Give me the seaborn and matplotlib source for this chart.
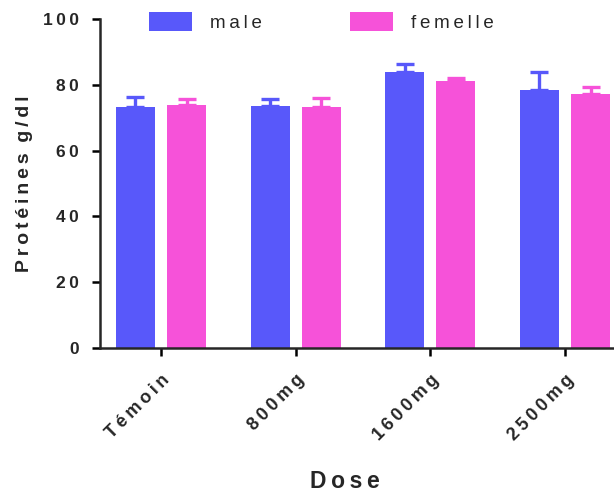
import matplotlib
matplotlib.use("Agg")
import matplotlib.pyplot as plt
import matplotlib.transforms as mtransforms
import seaborn as sns
import pandas as pd
import numpy as np
from matplotlib.patches import Patch

doses = ["Témoin", "800mg", "1600mg", "2500mg"]
groups = ["male", "femelle"]
male = [73.3, 73.6, 84.0, 78.3]
male_err = [3.1, 2.0, 2.3, 5.7]
femelle = [73.8, 73.2, 81.2, 77.2]
femelle_err = [1.8, 2.7, 1.0, 2.0]
colors = {"male": "#5858FA", "femelle": "#F652D9"}

SP = "\u2009"
def spaced(s, sp=SP):
    return sp.join(list(s))

df = pd.DataFrame({
    "Dose": doses * 2,
    "Sexe": ["male"] * 4 + ["femelle"] * 4,
    "val": male + femelle,
})
errs = {"male": male_err, "femelle": femelle_err}

sns.set_style("ticks")
plt.rcParams["font.family"] = ["Liberation Sans", "DejaVu Sans"]

fig = plt.figure(figsize=(6.14, 4.93), dpi=100)
ax = fig.add_axes([100/614, 1-348/493, 514/614, 329/493])

sns.barplot(data=df, x="Dose", y="val", hue="Sexe", hue_order=groups,
            order=doses, palette=colors, width=0.76, gap=0.24,
            errorbar=None, legend=False, ax=ax, saturation=1,
            edgecolor="none", linewidth=0)

for cont, g in zip(ax.containers, groups):
    vals = male if g == "male" else femelle
    xs = [b.get_x() + b.get_width()/2 for b in cont]
    e = errs[g]
    ax.errorbar(xs, vals, yerr=[np.zeros(len(e)), e], fmt="none",
                ecolor=colors[g], elinewidth=2.4, capsize=6.3, capthick=2.4,
                zorder=1)
    for b in cont:
        b.set_zorder(2)

ax.set_xlim(-0.453, 3.364)
ax.set_ylim(0, 100)
ax.set_yticks([0, 20, 40, 60, 80, 100])
ax.set_yticklabels([spaced(str(v)) for v in [0, 20, 40, 60, 80, 100]],
                   fontsize=12.5, fontweight="bold")
ax.set_xticks(range(4))
ax.set_xticklabels([spaced(d) for d in doses], rotation=45, ha="right",
                   rotation_mode="anchor", fontsize=13, fontweight="bold")
offset = mtransforms.ScaledTranslation(-5/100, 0, fig.dpi_scale_trans)
for lbl in ax.get_xticklabels():
    lbl.set_transform(lbl.get_transform() + offset)
for s in ["top", "right"]:
    ax.spines[s].set_visible(False)
for s in ["left", "bottom"]:
    ax.spines[s].set_linewidth(1.8)
ax.tick_params(axis="both", width=1.8, length=6, color="black")
ax.tick_params(axis="x", pad=11)
ax.tick_params(axis="y", pad=9)

ax.set_ylabel(spaced("Protéines") + "  " + spaced("g/dl"),
              fontsize=14, fontweight="bold")
ax.yaxis.set_label_coords(-0.13, 0.5)
ax.set_xlabel(spaced("Dose"), fontsize=16.5, fontweight="bold")
ax.xaxis.set_label_coords(0.477, -0.37)

handles = [Patch(facecolor=colors[g], edgecolor="none") for g in groups]
fig.legend(handles, [spaced(g) for g in groups], loc="upper left",
           bbox_to_anchor=(149/614, 1-12/493), ncol=2, frameon=False,
           fontsize=13.5, handlelength=2.3, handleheight=1.2,
           handletextpad=0.95, columnspacing=4.7, borderpad=0,
           borderaxespad=0)

fig.savefig("out.png", dpi=100)
